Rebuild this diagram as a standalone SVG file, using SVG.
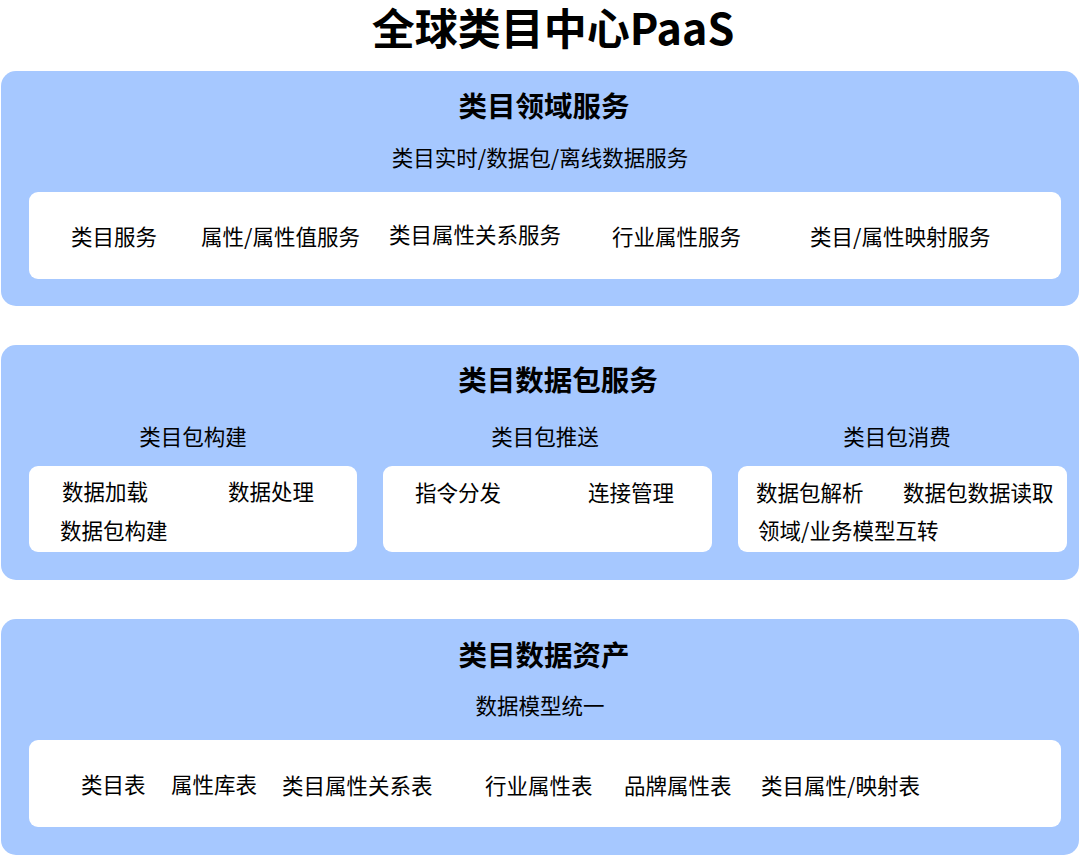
<svg xmlns="http://www.w3.org/2000/svg" width="1080" height="856" viewBox="0 0 1080 856">
<style>
.panel{fill:#a6c8ff}
.box{fill:#ffffff}
text{font-family:"Noto Sans CJK SC","Noto Sans",sans-serif;fill:#000}
.title{font-size:43px;font-weight:700}
.head{font-size:28.5px;font-weight:700;text-anchor:middle}
.sub{font-size:21.5px;text-anchor:middle}
.item{font-size:21.5px}
</style>
<rect width="1080" height="856" fill="#ffffff"/>
<text id="title" class="title" x="553" y="45" text-anchor="middle">全球类目中心PaaS</text>
<g id="domain">
<rect class="panel" x="1" y="71" width="1078" height="235" rx="15"/>
<text class="head" x="544" y="117">类目领域服务</text>
<text class="sub" x="540" y="166">类目实时/数据包/离线数据服务</text>
<rect class="box" x="29" y="192" width="1032" height="87" rx="9"/>
<text class="item" x="71" y="245">类目服务</text>
<text class="item" x="201" y="245">属性/属性值服务</text>
<text class="item" x="389" y="243">类目属性关系服务</text>
<text class="item" x="612" y="245">行业属性服务</text>
<text class="item" x="810" y="245">类目/属性映射服务</text>
</g>
<g id="package">
<rect class="panel" x="1" y="345" width="1078" height="235" rx="15"/>
<text class="head" x="558" y="391">类目数据包服务</text>
<text class="sub" x="193" y="445">类目包构建</text>
<text class="sub" x="545" y="445">类目包推送</text>
<text class="sub" x="897" y="445">类目包消费</text>
<rect class="box" x="29" y="466" width="328" height="86" rx="9"/>
<rect class="box" x="383" y="466" width="329" height="86" rx="9"/>
<rect class="box" x="738" y="466" width="329" height="86" rx="9"/>
<text class="item" x="62" y="500">数据加载</text>
<text class="item" x="228" y="500">数据处理</text>
<text class="item" x="60" y="539">数据包构建</text>
<text class="item" x="415" y="501">指令分发</text>
<text class="item" x="588" y="501">连接管理</text>
<text class="item" x="756" y="501">数据包解析</text>
<text class="item" x="903" y="501">数据包数据读取</text>
<text class="item" x="758" y="539">领域/业务模型互转</text>
</g>
<g id="assets">
<rect class="panel" x="1" y="619" width="1078" height="236" rx="15"/>
<text class="head" x="544" y="666">类目数据资产</text>
<text class="sub" x="540" y="714">数据模型统一</text>
<rect class="box" x="29" y="740" width="1032" height="87" rx="9"/>
<text class="item" x="81" y="793">类目表</text>
<text class="item" x="171" y="793">属性库表</text>
<text class="item" x="282" y="794">类目属性关系表</text>
<text class="item" x="485" y="794">行业属性表</text>
<text class="item" x="624" y="794">品牌属性表</text>
<text class="item" x="761" y="794">类目属性/映射表</text>
</g>
<g id="connectors"></g>
</svg>
